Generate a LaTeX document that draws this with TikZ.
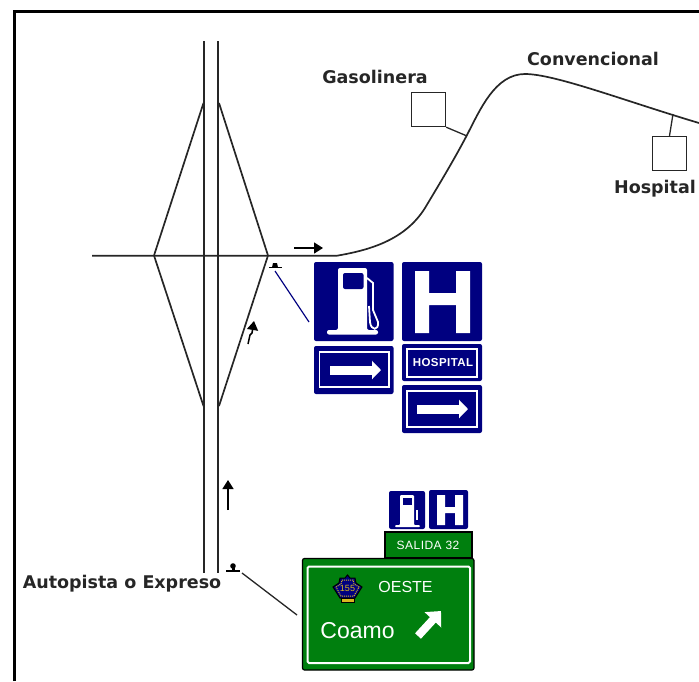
\documentclass[tikz,border=0pt]{standalone}
\usepackage{fontspec}
\setmainfont{Liberation Sans}
\newfontfamily\lblfont{DejaVu Sans}
\newfontfamily\platefont[LetterSpace=4]{Liberation Sans}
\usepackage{xcolor}
\usetikzlibrary{arrows.meta,positioning}
\definecolor{signblue}{HTML}{000080}
\definecolor{signgreen}{HTML}{007F0E}
\definecolor{shieldgold}{HTML}{D8B820}
\tikzset{
  road/.style={draw=black!85, line width=1.7pt},
  mainroad/.style={draw=black!85, line width=1.95pt},
  tick/.style={draw=black!85, line width=1.3pt},
  pointer/.style={draw=black, line width=1.5pt, -{Triangle[length=9pt,width=11pt]}},
  lotbox/.style={draw=black!85, line width=1.4pt, minimum size=34pt, inner sep=0pt},
  lbl/.style={font=\lblfont\bfseries\fontsize{17.5}{17.5}\selectfont, text=black!85, inner sep=0pt},
  bluesign/.style={fill=signblue, rounded corners=2pt},
  greensign/.style={fill=signgreen, draw=black, line width=1.2pt, rounded corners=2pt},
  inset/.style={draw=white, line width=1.6pt},
  whitearrow/.style={draw=white, line width=9pt, -{Triangle[length=9pt,width=18pt]}},
  signtext/.style={text=white, inner sep=0pt}
}
\begin{document}
\begin{tikzpicture}[x=1pt,y=-1pt]
  \useasboundingbox (0,0) rectangle (699,681);
  % frame, open at the right side
  \draw[black, line width=3pt] (14,681) -- (14,11.5) -- (699,11.5);

  % interchange
  \coordinate (west) at (154,255.5);
  \coordinate (east) at (268,255.5);
  \coordinate (topl) at (203.5,103);
  \coordinate (topr) at (219,103);
  \coordinate (botl) at (203.5,406);
  \coordinate (botr) at (219,406);
  \draw[mainroad] (204.4,41) -- (204.4,573);
  \draw[mainroad] (218.4,41) -- (218.4,573);
  \draw[road] (west) -- (topl);
  \draw[road] (east) -- (topr);
  \draw[road] (west) -- (botl);
  \draw[road] (east) -- (botr);

  % conventional road
  \draw[road] (92,255.7) -- (337,255.7)
    .. controls (370,250) and (405,240) .. (425,208)
    .. controls (440,183) and (455,158) .. (467,135)
    .. controls (480,110) and (495,74) .. (525,74)
    .. controls (555,74) and (625,101) .. (699,123);

  % lots
  \node[lotbox] (gas) at (428.5,109.5) {};
  \node[lotbox] (hosp) at (669.5,153.5) {};
  \coordinate (gasjoin) at (467,136);
  \coordinate (hospjoin) at (673,114);
  \draw[tick] (gas.south east) -- (gasjoin);
  \draw[tick] (hosp.north) -- (hospjoin);

  \node[lbl] (gaslabel) at (375,77) {Gasolinera};
  \node[lbl] (convlabel) at (593,59) {Convencional};
  \node[lbl] (hosplabel) at (655,189) {Hospital};
  \node[lbl] (autolabel) at (122,584) {Autopista o Expreso};

  % traffic arrows
  \draw[pointer] (294,248) -- (323,248);
  \draw[pointer] (228,510) -- (228,480);
  \draw[pointer] (248,344) -- (250,335) -- (252,333) -- (254,321);

  % sign markers and leaders
  \draw[line width=1.2pt] (269,267.5) -- (282,267.5);
  \fill[black] (272,267.5) -- (273,263) -- (277,263) -- (278,267.5) -- cycle;
  \coordinate (bluestart) at (275,271);
  \coordinate (blueend) at (309,322);
  \draw[draw=signblue, line width=1.2pt] (bluestart) -- (blueend);
  \draw[line width=1.2pt] (226,571) -- (240,571);
  \fill[black] (233,566) circle (2.8pt);
  \fill[black] (231.5,571) rectangle (234.5,566);
  \coordinate (greenstart) at (242,573);
  \coordinate (greenend) at (297,615);
  \draw[tick] (greenstart) -- (greenend);

  % fuel sign
  \fill[bluesign] (314,262) rectangle (393.5,341);
  \fill[white, rounded corners=2pt] (338,268) -- (367,268) -- (367,330) -- (378,330) -- (378,334.5) -- (327,334.5) -- (327,330) -- (338,330) -- cycle;
  \fill[signblue, rounded corners=2pt] (343,273) rectangle (363.5,289);
  \draw[white, line width=1.8pt] (367,278) -- (373,283) -- (373,310) -- (378,322) .. controls (379,331) and (371,331) .. (370,322) -- (369,306);
  % hospital sign
  \fill[bluesign] (402,262) rectangle (482,341);
  \fill[white] (415,271) -- (429,271) -- (429,293) -- (456,293) -- (456,271) -- (470,271) -- (470,333) -- (456,333) -- (456,305) -- (429,305) -- (429,333) -- (415,333) -- cycle;

  % arrow plates
  \fill[bluesign] (314,346) rectangle (393.5,394);
  \draw[inset] (319.5,352) rectangle (389,387);
  \draw[whitearrow] (330,370) -- (381,370);
  \fill[bluesign] (402,344) rectangle (482,381);
  \draw[inset] (407,349) rectangle (477,377);
  \node[signtext, font=\platefont\bfseries\fontsize{11.5}{11.5}\selectfont] (hospplate) at (443,363) {HOSPITAL};
  \fill[bluesign] (402,385) rectangle (482,433);
  \draw[inset] (407,391) rectangle (477,427);
  \draw[whitearrow] (417,409) -- (468,409);

  % small signs over exit plate
  \fill[bluesign] (389,491) rectangle (425,529);
  \fill[white, rounded corners=1pt] (400,495) -- (414,495) -- (414,525) -- (420,525) -- (420,527) -- (395,527) -- (395,525) -- (400,525) -- cycle;
  \fill[signblue] (403,497.5) rectangle (412,505);
  \fill[white] (416,510) -- (418,510) -- (418,520) -- (416,520) -- cycle;
  \fill[bluesign] (429,490) rectangle (468,529);
  \fill[white] (437,495) -- (445,495) -- (445,507) -- (455,507) -- (455,495) -- (463,495) -- (463,525) -- (455,525) -- (455,513) -- (445,513) -- (445,525) -- (437,525) -- cycle;

  % exit sign
  \fill[greensign, rounded corners=0pt] (385,532) rectangle (472,558);
  \node[signtext, font=\platefont\fontsize{12}{12}\selectfont] (exitplate) at (428,545) {SALIDA 32};
  \fill[greensign] (302.5,558.5) rectangle (474,670);
  \draw[inset, line width=2pt, rounded corners=1.5pt] (307.5,566.5) rectangle (470,663);
  \node[signtext, font=\fontsize{16}{16}\selectfont] (westtext) at (405.5,587) {OESTE};
  \node[signtext, font=\fontsize{23}{23}\selectfont] (towntext) at (357.5,631) {Coamo};
  \coordinate (shield) at (347.5,588);
  \fill[signblue, draw=black, line width=1pt] (333,587) -- (339,583) -- (340,578) -- (345,578) -- (347.5,575) -- (350,578) -- (355,578) -- (356,583) -- (362,587) -- (355,598) -- (340,598) -- cycle;
  \fill[shieldgold, draw=black, line width=0.6pt] (341,598) rectangle (354,602);
  \draw[shieldgold, densely dotted, line width=1pt] (336,587) -- (341,584) -- (342,580) -- (353,580) -- (354,584) -- (359,587) -- (354,596) -- (341,596) -- cycle;
  \node[font=\fontsize{9}{9}\selectfont, text=shieldgold, inner sep=0pt] (shieldnum) at (shield) {155};
  \draw[draw=white, line width=8pt, -{Triangle[length=12pt,width=22pt]}] (418,636) -- (441,611);
\end{tikzpicture}
\end{document}
